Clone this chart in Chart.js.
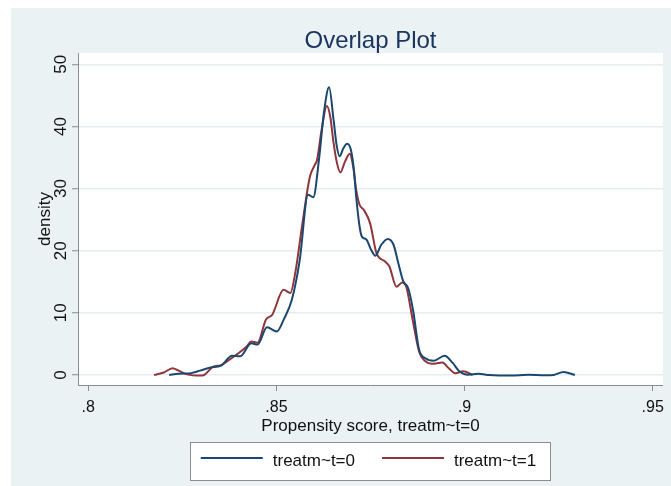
<!DOCTYPE html>
<html>
<head>
<meta charset="utf-8">
<script src="https://cdn.jsdelivr.net/npm/chart.js@4.4.1/dist/chart.umd.min.js"></script>
<style>
html,body{margin:0;padding:0;background:#ffffff;}
#wrap{width:671px;height:486px;}
</style>
</head>
<body>
<div id="wrap"><canvas id="c" width="671" height="486"></canvas></div>
<script>
// ---------- data ----------
const chartTitle = 'Overlap Plot';
const xAxisTitle = 'Propensity score, treatm~t=0';
const yAxisTitle = 'density';
const seriesLabels = ['treatm~t=0', 'treatm~t=1'];
const xTickValues = [0.8, 0.85, 0.9, 0.95];
const xTickLabels = ['.8', '.85', '.9', '.95'];
const yTickValues = [0, 10, 20, 30, 40, 50];
const yTickLabels = ['0', '10', '20', '30', '40', '50'];

const controlX = [0.8215, 0.8240, 0.8274, 0.8297, 0.8325, 0.8353, 0.8382, 0.8404, 0.8433, 0.8450,
  0.8475, 0.8501, 0.8520, 0.8541, 0.8562, 0.8584, 0.8598, 0.8613, 0.8626, 0.8640,
  0.8652, 0.8660, 0.8668, 0.8678, 0.8688, 0.8698, 0.8706, 0.8712, 0.8721, 0.8727,
  0.8739, 0.8752, 0.8763, 0.8779, 0.8796, 0.8811, 0.8824, 0.8837, 0.8850, 0.8863,
  0.8879, 0.8896, 0.8918, 0.8947, 0.8969, 0.8986, 0.9009, 0.9037, 0.9066, 0.9123,
  0.9169, 0.9214, 0.9237, 0.9263, 0.9293];
const controlY = [0.0, 0.2, 0.3, 0.7, 1.2, 1.5, 3.1, 3.0, 5.1, 4.9,
  7.7, 7.0, 9.0, 12.1, 18.5, 29.0, 28.6, 34.6, 42.1, 46.3,
  41.0, 37.0, 35.2, 36.5, 37.2, 36.2, 33.0, 28.7, 23.9, 22.3,
  21.8, 20.1, 19.2, 21.0, 21.9, 21.0, 18.0, 15.1, 14.0, 10.5,
  4.1, 2.7, 2.3, 3.1, 1.9, 0.6, 0.05, 0.2, 0.0, -0.1,
  0.05, -0.05, 0.0, 0.5, 0.0];

const treatedX = [0.8175, 0.8201, 0.8224, 0.8240, 0.8263, 0.8297, 0.8308, 0.8331, 0.8353, 0.8376,
  0.8399, 0.8421, 0.8433, 0.8450, 0.8472, 0.8489, 0.8519, 0.8537, 0.8550, 0.8568,
  0.8589, 0.8602, 0.8608, 0.8620, 0.8634, 0.8643, 0.8652, 0.8661, 0.8670, 0.8682,
  0.8695, 0.8704, 0.8712, 0.8721, 0.8732, 0.8749, 0.8766, 0.8788, 0.8800, 0.8819,
  0.8834, 0.8845, 0.8862, 0.8879, 0.8896, 0.8913, 0.8941, 0.8958, 0.8975, 0.8997,
  0.9021];
const treatedY = [0.0, 0.4, 1.1, 0.7, 0.1, -0.1, 0.0, 1.3, 1.6, 2.5,
  3.5, 4.6, 5.4, 5.2, 8.9, 9.7, 13.7, 13.2, 16.4, 23.9,
  31.9, 33.8, 34.6, 39.4, 43.3, 41.6, 37.3, 34.1, 32.6, 34.3,
  35.6, 33.5, 29.8, 27.4, 26.6, 24.4, 19.6, 18.3, 17.5, 14.2,
  14.9, 14.2, 8.9, 3.8, 2.2, 1.8, 2.0, 1.1, 0.3, 0.6,
  0.0];

const seriesColors = ['#1a476f', '#90353b'];

// ---------- chart ----------
const FONT = "'Liberation Sans', Arial, Helvetica, sans-serif";
Chart.defaults.font.family = FONT;
Chart.defaults.color = '#111111';

const toPoints = (xs, ys) => xs.map((x, i) => ({x: x, y: ys[i]}));

const backgroundPlugin = {
  id: 'stataBackground',
  beforeDraw(chart) {
    const ctx = chart.ctx, a = chart.chartArea;
    ctx.save();
    ctx.fillStyle = '#ffffff';
    ctx.fillRect(0, 0, chart.width, chart.height);
    ctx.fillStyle = '#eaf2f3';
    ctx.fillRect(11, 8, chart.width - 11, chart.height - 8);
    ctx.fillStyle = '#ffffff';
    ctx.fillRect(a.left, a.top, a.right - a.left, a.bottom - a.top);
    ctx.restore();
  }
};

const legendBoxPlugin = {
  id: 'stataLegend',
  afterDraw(chart) {
    const ctx = chart.ctx, a = chart.chartArea;
    const cx = (a.left + a.right) / 2;
    const boxW = 361, boxH = 39, boxTop = 442;
    const left = cx - boxW / 2;
    ctx.save();
    ctx.fillStyle = '#ffffff';
    ctx.fillRect(left, boxTop, boxW, boxH);
    ctx.strokeStyle = '#8c8c8c';
    ctx.lineWidth = 1;
    ctx.strokeRect(Math.round(left) + 0.5, boxTop + 0.5, boxW - 1, boxH - 1);
    ctx.font = '17px ' + FONT;
    const lineLen = 62, gap1 = 10, gap2 = 27;
    const w0 = ctx.measureText(chart.data.datasets[0].label).width;
    const w1 = ctx.measureText(chart.data.datasets[1].label).width;
    const total = lineLen + gap1 + w0 + gap2 + lineLen + gap1 + w1;
    let x = cx - total / 2 - 2;
    const lineY = 458, textY = 461;
    chart.data.datasets.forEach((ds, i) => {
      ctx.strokeStyle = ds.borderColor;
      ctx.lineWidth = 2;
      ctx.beginPath();
      ctx.moveTo(x, lineY);
      ctx.lineTo(x + lineLen, lineY);
      ctx.stroke();
      x += lineLen + gap1;
      ctx.fillStyle = '#111111';
      ctx.textAlign = 'left';
      ctx.textBaseline = 'middle';
      ctx.fillText(ds.label, x, textY);
      x += (i === 0 ? w0 : w1) + gap2;
    });
    ctx.restore();
  }
};

new Chart(document.getElementById('c'), {
  type: 'line',
  data: {
    datasets: [
      {label: seriesLabels[0], data: toPoints(controlX, controlY), borderColor: seriesColors[0],
       backgroundColor: seriesColors[0], borderWidth: 2, pointRadius: 0, fill: false,
       cubicInterpolationMode: 'monotone'},
      {label: seriesLabels[1], data: toPoints(treatedX, treatedY), borderColor: seriesColors[1],
       backgroundColor: seriesColors[1], borderWidth: 2, pointRadius: 0, fill: false,
       cubicInterpolationMode: 'monotone'}
    ]
  },
  options: {
    responsive: false,
    devicePixelRatio: 1,
    animation: false,
    events: [],
    layout: {padding: {top: 0, left: 0, right: 4, bottom: 0}},
    plugins: {
      legend: {display: false},
      tooltip: {enabled: false},
      title: {
        display: true, text: chartTitle, fullSize: false,
        color: '#1a3560',
        font: {size: 24, weight: 'normal', lineHeight: 1},
        padding: {top: 29, bottom: 0}
      }
    },
    scales: {
      x: {
        type: 'linear',
        min: 0.79728, max: 0.95272,
        afterBuildTicks: s => { s.ticks = xTickValues.map(v => ({value: v})); },
        afterFit: s => { s.height = 101; },
        ticks: {
          callback: (v, i) => xTickLabels[i],
          font: {size: 16}, color: '#111111', padding: 7, maxRotation: 0, autoSkip: false
        },
        grid: {drawOnChartArea: false, drawTicks: true, tickLength: 6, tickColor: '#8c8c8c', tickWidth: 1},
        border: {display: true, color: '#8c8c8c', width: 1},
        title: {display: true, text: xAxisTitle, font: {size: 17, lineHeight: 1}, color: '#111111',
                padding: {top: 0, bottom: 51}}
      },
      y: {
        type: 'linear',
        min: -1.61, max: 51.82,
        afterBuildTicks: s => { s.ticks = yTickValues.map(v => ({value: v})); },
        afterFit: s => { s.width = 78; },
        ticks: {
          callback: (v, i) => yTickLabels[i],
          font: {size: 17}, color: '#111111', padding: 1,
          minRotation: 90, maxRotation: 90, crossAlign: 'center', autoSkip: false
        },
        grid: {color: '#e4edef', lineWidth: 1.5, drawTicks: true, tickLength: 6, tickColor: '#8c8c8c', tickWidth: 1},
        border: {display: true, color: '#8c8c8c', width: 1},
        title: {display: true, text: yAxisTitle, font: {size: 17, lineHeight: 1}, color: '#111111',
                padding: {top: 36.5, bottom: 0}}
      }
    }
  },
  plugins: [backgroundPlugin, legendBoxPlugin]
});
</script>
</body>
</html>
